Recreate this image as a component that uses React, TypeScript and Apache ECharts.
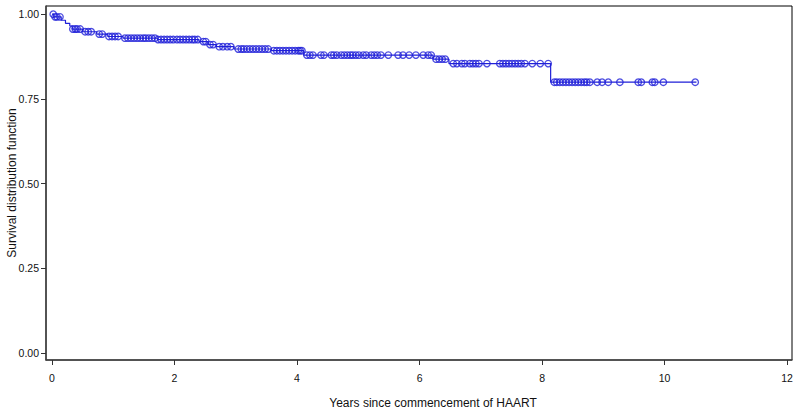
import React, { useEffect, useRef } from "react";
import * as echarts from "echarts";

// Kaplan-Meier step events (years, survival after the event)
const eventTimes = [0.03, 0.15, 0.22, 0.29, 0.33, 0.5, 0.73, 0.91, 1.16, 1.72, 2.4, 2.55, 2.68, 2.97, 3.58, 4.11, 6.22, 6.48, 8.14];
const survival = [0.992, 0.982, 0.973, 0.965, 0.956, 0.948, 0.941, 0.934, 0.929, 0.925, 0.919, 0.91, 0.904, 0.897, 0.892, 0.879, 0.867, 0.854, 0.799];
const endTime = 10.52;

// Censoring times (years)
const censorTimes = [
  0.02, 0.05, 0.08, 0.13,
  0.34, 0.38, 0.41, 0.46,
  0.54, 0.59, 0.64, 0.77, 0.82,
  0.93, 0.98, 1.03, 1.08,
  1.19, 1.24, 1.29, 1.34, 1.39, 1.44, 1.49, 1.53, 1.58, 1.63, 1.68, 1.73, 1.78, 1.83, 1.88, 1.93, 1.98,
  2.04, 2.09, 2.14, 2.19, 2.24, 2.29, 2.33, 2.38, 2.47, 2.51, 2.58, 2.63,
  2.73, 2.79, 2.86, 2.92,
  3.04, 3.09, 3.13, 3.18, 3.23, 3.28, 3.33, 3.38, 3.43, 3.48, 3.53,
  3.62, 3.67, 3.72, 3.77, 3.82, 3.87, 3.92, 3.97, 4.02, 4.05, 4.08,
  4.16, 4.21, 4.26, 4.39, 4.44, 4.56, 4.6, 4.65, 4.72, 4.77, 4.82, 4.87, 4.91, 4.96, 5.01,
  5.08, 5.13, 5.21, 5.26, 5.31, 5.37, 5.49, 5.65, 5.73, 5.83, 5.94, 6.06, 6.14, 6.19,
  6.27, 6.32, 6.37, 6.42,
  6.55, 6.61, 6.69, 6.74, 6.82, 6.87, 6.92, 6.97, 7.1,
  7.31, 7.36, 7.41, 7.46, 7.51, 7.56, 7.61, 7.66, 7.72, 7.84, 7.97, 8.1,
  8.2, 8.24, 8.29, 8.34, 8.39, 8.44, 8.49, 8.54, 8.59, 8.64, 8.69, 8.73, 8.78,
  8.9, 8.98, 9.08, 9.27, 9.57, 9.62, 9.8, 9.84, 9.98, 10.5,
];

const xTicks = [0, 2, 4, 6, 8, 10, 12];
const yTicks = [0, 0.25, 0.5, 0.75, 1.0];

const BLUE = "#1f1fd8";

function survivalAt(t: number): number {
  let s = 1;
  for (let i = 0; i < eventTimes.length; i++) {
    if (eventTimes[i] <= t) s = survival[i];
  }
  return s;
}

export default function App() {
  const ref = useRef<HTMLDivElement>(null);
  useEffect(() => {
    if (!ref.current) return;
    const chart = echarts.init(ref.current, undefined, { renderer: "svg" });
    const lineData: number[][] = [[0, 1]];
    eventTimes.forEach((t, i) => lineData.push([t, survival[i]]));
    lineData.push([endTime, survival[survival.length - 1]]);
    const censorData = censorTimes.map((t) => [t, survivalAt(t)]);

    chart.setOption({
      animation: false,
      backgroundColor: "#fff",
      grid: {
        left: 46,
        right: 8,
        top: 6,
        bottom: 53,
        show: true,
        borderColor: "#000",
        borderWidth: 1,
        backgroundColor: "transparent",
      },
      xAxis: {
        type: "value",
        min: -0.098,
        max: 12.08,
        splitLine: { show: false },
        axisLine: { show: true, onZero: false, lineStyle: { color: "#444", width: 1.5 } },
        axisTick: { show: true, inside: false, length: 5, customValues: xTicks, lineStyle: { color: "#333" } },
        axisLabel: {
          customValues: xTicks,
          margin: 12,
          fontSize: 10.5,
          color: "#111",
          fontFamily: "Liberation Sans, Arial, sans-serif",
        },
      },
      yAxis: {
        type: "value",
        min: -0.021,
        max: 1.024,
        splitLine: { show: false },
        axisLine: { show: true, onZero: false, lineStyle: { color: "#444", width: 1.5 } },
        axisTick: { show: true, inside: false, length: 5, customValues: yTicks, lineStyle: { color: "#333" } },
        axisLabel: {
          customValues: yTicks,
          margin: 7,
          fontSize: 10.5,
          color: "#111",
          fontFamily: "Liberation Sans, Arial, sans-serif",
          formatter: (v: number) => v.toFixed(2),
        },
      },
      graphic: [
        {
          type: "text",
          x: 433,
          y: 403,
          style: {
            text: "Years since commencement of HAART",
            fontSize: 12,
            fill: "#111",
            fontFamily: "Liberation Sans, Arial, sans-serif",
            align: "center",
            verticalAlign: "middle",
          },
        },
        {
          type: "text",
          x: 12,
          y: 183,
          rotation: Math.PI / 2,
          style: {
            text: "Survival distribution function",
            fontSize: 12,
            fill: "#111",
            fontFamily: "Liberation Sans, Arial, sans-serif",
            align: "center",
            verticalAlign: "middle",
          },
        },
      ],
      series: [
        {
          type: "line",
          step: "end",
          data: lineData,
          showSymbol: false,
          symbol: "none",
          lineStyle: { color: BLUE, width: 1.2 },
          silent: true,
        },
        {
          type: "scatter",
          data: censorData,
          symbol: "circle",
          symbolSize: 6.5,
          itemStyle: { color: "rgba(0,0,0,0)", borderColor: BLUE, borderWidth: 1.3 },
          silent: true,
        },
      ],
    });
    return () => chart.dispose();
  }, []);
  return (
    <div
      ref={ref}
      style={{ position: "fixed", left: 0, top: 0, width: 800, height: 413, background: "#fff" }}
    />
  );
}
